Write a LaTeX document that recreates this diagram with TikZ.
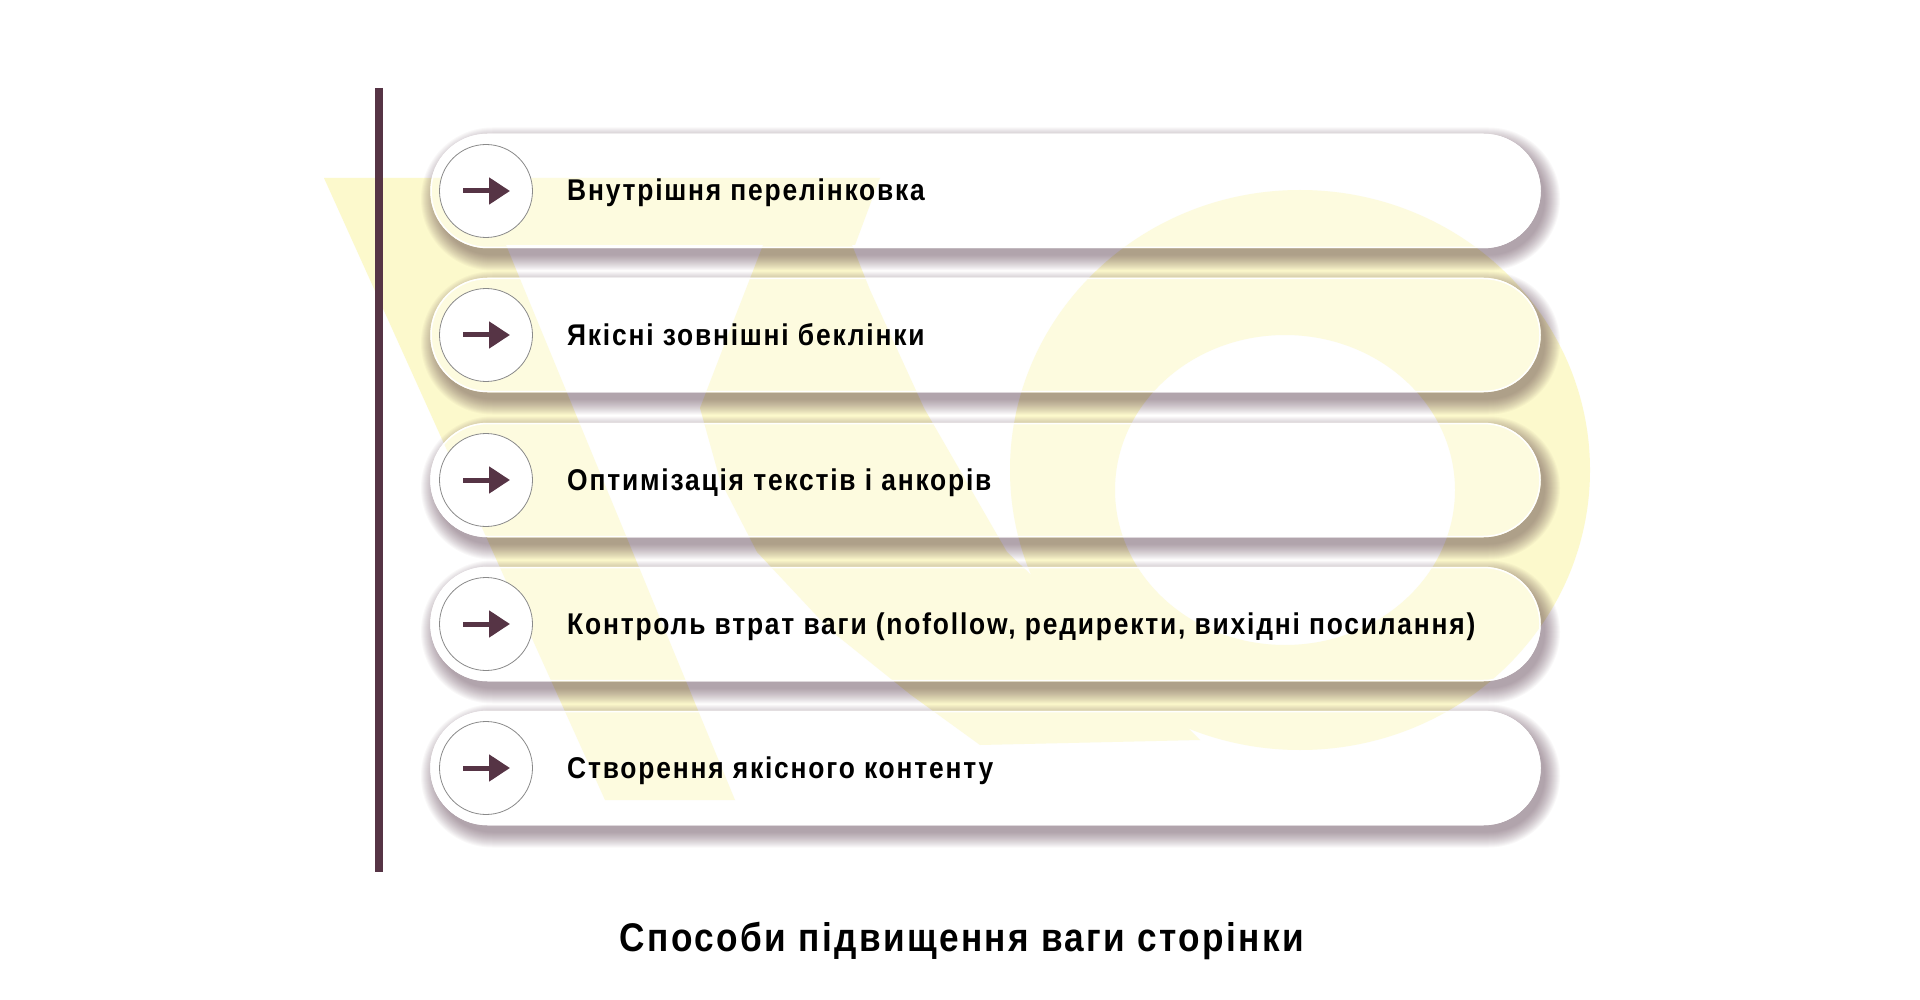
\documentclass[tikz,border=0pt]{standalone}
\usepackage{fontspec}
\newfontfamily\itemfont{Liberation Sans}[FakeStretch=0.88, LetterSpace=6]
\newfontfamily\headfont{Liberation Sans}[FakeStretch=0.88, LetterSpace=6]
\usetikzlibrary{shapes.misc,arrows.meta}
\definecolor{plum}{HTML}{563445}
\definecolor{shadowcol}{HTML}{5A3C4E}
\definecolor{wyellow}{HTML}{FCF9CC}
\definecolor{ringgray}{HTML}{8A8A8A}
\pgfdeclarehorizontalshading{pillgloss}{100bp}{color(0bp)=(black!20); color(6bp)=(white); color(92bp)=(white); color(100bp)=(black!26)}
\newcommand\pillshade[2]{%
  \foreach \k in {0,...,15}{%
    \pgfmathsetmacro\hw{554.5+15-\k}%
    \pgfmathsetmacro\hh{56.5+15-\k}%
    \fill[shadowcol, opacity=0.037, rounded corners=\hh pt]
      (#1+5-\hw, #2+8-\hh) rectangle (#1+5+\hw, #2+8+\hh);
  }}
\begin{document}
\begin{tikzpicture}[x=1pt, y=-1pt,
  pill/.style={rounded rectangle, rounded rectangle arc length=180, minimum width=1109pt, minimum height=113pt, inner sep=0pt, fill=white, draw=white, line width=1.5pt},
  bullet/.style={circle, minimum size=93pt, inner sep=0pt, fill=white, draw=ringgray, line width=0.8pt},
  pointer/.style={plum, line width=5pt, -{Triangle[length=21pt, width=26pt]}},
  itemtext/.style={anchor=base west, inner sep=0pt, font=\itemfont\bfseries\fontsize{30}{34}\selectfont, text=black},
  titletext/.style={anchor=base, inner sep=0pt, font=\headfont\bfseries\fontsize{40}{46}\selectfont, text=black}
]
\useasboundingbox (0,0) rectangle (1920,1000);
\fill[white] (0,0) rectangle (1920,1000);

% shadows
\foreach \cy in {191,335,480,624,768}{\pillshade{985.5}{\cy}}

% pills
\node[pill] (p1) at (985.5,191) {};
\node[pill] (p2) at (985.5,335) {};
\node[pill] (p3) at (985.5,480) {};
\node[pill] (p4) at (985.5,624) {};
\node[pill] (p5) at (985.5,768) {};

% pale yellow mark, multiplied over everything below
\begin{scope}[blend mode=multiply]
\begin{scope}[transparency group]
\fill[wyellow] (324,178) -- (880,178) -- (855,245) -- (506,245) -- (735,800) -- (605,800) -- cycle;
\fill[wyellow] (765,240) -- (850,240) -- (870,290) -- (924,408) -- (1007,552) -- (1100,640) -- (1200,740)
  -- (980,745) -- (911,695) -- (830,630) -- (757,552) -- (720,480) -- (700,408) -- (730,330) -- cycle;
\fill[wyellow, even odd rule] (1300,470) ellipse [x radius=290, y radius=280]
  (1285,490) ellipse [x radius=170, y radius=155];
\end{scope}
\end{scope}

% soft gloss over the pills
\foreach \cy in {191,335,480,624,768}{
  \shade[shading=pillgloss, opacity=0.38, rounded corners=56.5pt] (431,\cy-56.5) rectangle (1540,\cy+56.5);
  \draw[white, line width=1.5pt, rounded corners=56.5pt] (431,\cy-56.5) rectangle (1540,\cy+56.5);
}

% bullets and arrows
\foreach \i/\cy in {1/191,2/335,3/480,4/624,5/768}{
  \node[bullet] (c\i) at (486,\cy) {};
  \draw[pointer] ([xshift=-23pt]c\i.center) -- ([xshift=24pt]c\i.center);
}

% texts
\node[itemtext] (t1) at (567,201) {Внутрішня перелінковка};
\node[itemtext] (t2) at (567,345) {Якісні зовнішні беклінки};
\node[itemtext] (t3) at (567,490) {Оптимізація текстів і анкорів};
\node[itemtext] (t4) at (567,634) {Контроль втрат ваги (nofollow, редиректи, вихідні посилання)};
\node[itemtext] (t5) at (567,778) {Створення якісного контенту};

% vertical bar
\coordinate (bartop) at (379,88);
\coordinate (barbot) at (379,872);
\draw[plum, line width=8pt] (bartop) -- (barbot);

% title
\node[titletext] (title) at (962,951) {Способи підвищення ваги сторінки};
\end{tikzpicture}
\end{document}
